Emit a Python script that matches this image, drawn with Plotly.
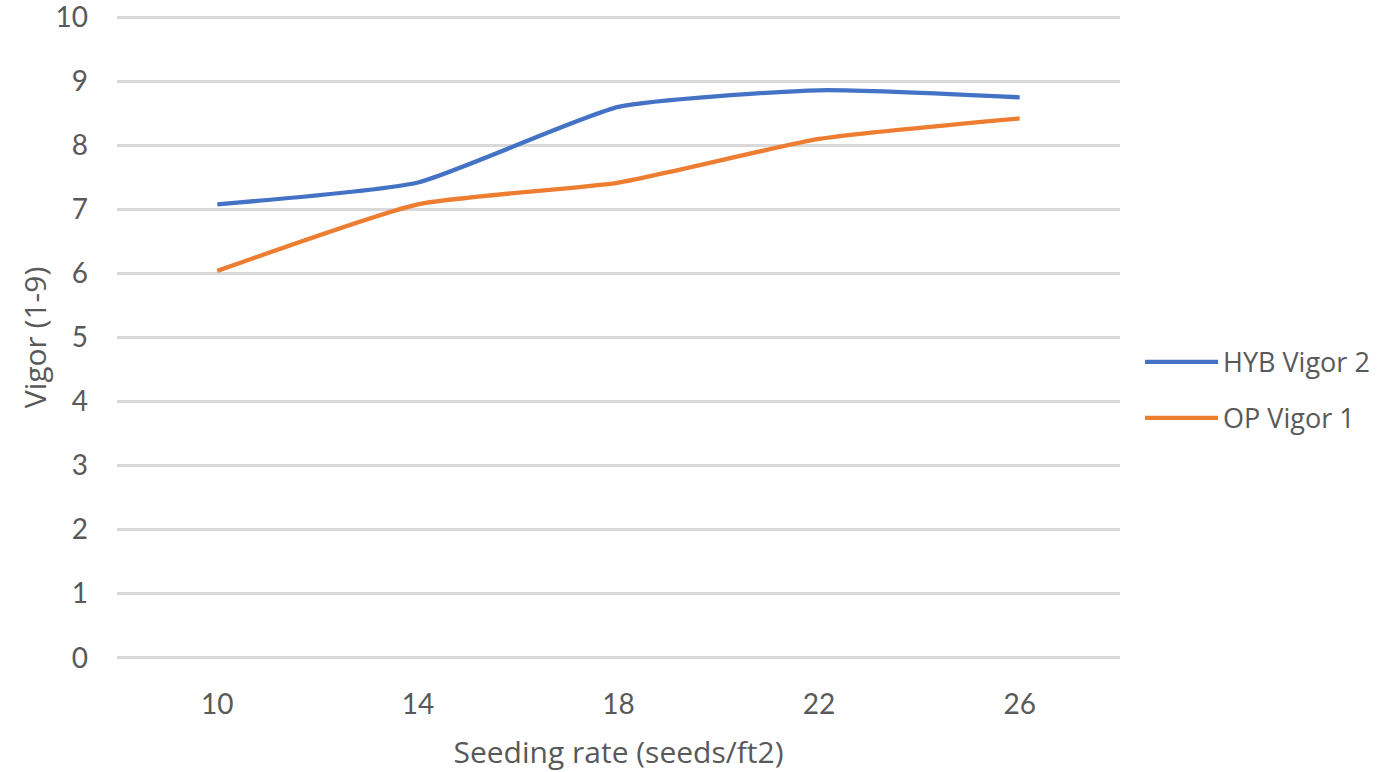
import plotly.graph_objects as go

seeding_rate = ["10", "14", "18", "22", "26"]
hyb_vigor2 = [7.08, 7.42, 8.60, 8.86, 8.75]
op_vigor1 = [6.04, 7.08, 7.42, 8.10, 8.42]
y_ticks = list(range(0, 11))

FONT = "Open Sans"
TICKFONT = "Lato"
TXT = "#595959"

fig = go.Figure()
fig.add_trace(go.Scatter(x=seeding_rate, y=hyb_vigor2, name="HYB Vigor 2", mode="lines",
                         legendgroup="a",
                         line=dict(color="#4472C4", width=4.3, shape="spline", smoothing=0.5)))
fig.add_trace(go.Scatter(x=seeding_rate, y=op_vigor1, name="OP Vigor 1", mode="lines",
                         legendgroup="b",
                         line=dict(color="#ED7D31", width=4.3, shape="spline", smoothing=0.5)))

fig.update_layout(
    width=1389, height=772,
    margin=dict(l=117, r=269, t=16, b=113, autoexpand=False),
    paper_bgcolor="white", plot_bgcolor="white",
    font=dict(family=FONT, color=TXT, size=26),
    legend=dict(x=1.02, y=0.418, xanchor="left", yanchor="middle",
                font=dict(size=27, color=TXT), tracegroupgap=18, itemwidth=73,
                bgcolor="rgba(0,0,0,0)"),
    xaxis=dict(type="category", range=[-0.5, 4.5], showgrid=False, zeroline=False,
               showline=False, ticks="", tickfont=dict(family=TICKFONT, size=28, color=TXT),
               ticklabelstandoff=26, automargin=False,
               title=dict(text="Seeding rate (seeds/ft2)", font=dict(size=30, color=TXT), standoff=27)),
    yaxis=dict(range=[-0.02, 10.02], tickvals=y_ticks, showgrid=True, gridcolor="#D9D9D9", gridwidth=2.5,
               zeroline=False, showline=False, ticks="", ticklabelstandoff=28,
               ticklabeloverflow="allow", automargin=False,
               tickfont=dict(family=TICKFONT, size=28, color=TXT),
               title=dict(text="Vigor (1-9)", font=dict(size=30, color=TXT), standoff=0)),
)

fig.write_html("out.html")
